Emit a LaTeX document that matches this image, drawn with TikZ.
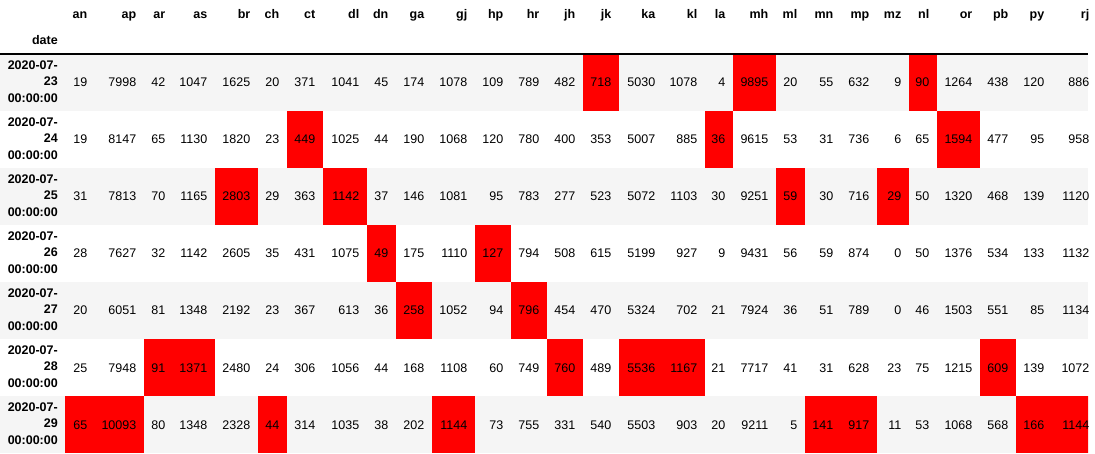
\documentclass[tikz,border=0pt]{standalone}
\usepackage{fontspec}
\setmainfont{Liberation Sans}
\definecolor{rowgray}{HTML}{F5F5F5}
\definecolor{maxred}{HTML}{FF0000}
\newcommand{\cellfont}{\fontsize{12.5}{16.5}\selectfont}
\tikzstyle{header} = [anchor=base east, inner sep=0pt, font=\cellfont\bfseries]
\tikzstyle{value} = [anchor=base east, inner sep=0pt, text=black, font=\cellfont]
\tikzstyle{dateidx} = [anchor=east, inner sep=0pt, align=right, font=\cellfont\bfseries]
\tikzstyle{stripe} = [fill=rowgray, draw=none]
\tikzstyle{maxcell} = [fill=maxred, draw=none]
\tikzstyle{headrule} = [draw=black, line width=1.2pt]
% right edges of the columns (pixels), first entry is the left edge of 'an'
\def\colEdge{{65,95,144,173,215,258,287,323,367,396,432,475,511,547,583,619,663,705,733,776,805,841,877,909,937,980,1016,1052,1097}}

\begin{document}
\begin{tikzpicture}[x=1pt, y=-1pt]
	\useasboundingbox (0,0) rectangle (1095,454);
	\begin{scope}
		\clip (0,0) rectangle (1088,454);

		% striped rows
		\foreach \r in {1,3,5,7}
			\fill[stripe] (0,{54+57*(\r-1)}) rectangle (1088,{54+57*\r});

		% column maxima
		\foreach \r/\c in {1/15,1/19,1/24, 2/7,2/18,2/25, 3/5,3/8,3/20,3/23, 4/9,4/12, 5/10,5/13,
				6/3,6/4,6/14,6/16,6/17,6/26, 7/1,7/2,7/6,7/11,7/21,7/22,7/27,7/28} {
			\pgfmathsetmacro{\xl}{\colEdge[\c-1]}
			\pgfmathsetmacro{\xr}{\colEdge[\c]}
			\fill[maxcell] (\xl,{54+57*(\r-1)}) rectangle (\xr,{54+57*\r});
		}

		% header
		\foreach \name [count=\c] in {an,ap,ar,as,br,ch,ct,dl,dn,ga,gj,hp,hr,jh,jk,ka,kl,la,mh,ml,mn,mp,mz,nl,or,pb,py,rj} {
			\pgfmathsetmacro{\xr}{\colEdge[\c]-7.5}
			\node[header] (h-\name) at (\xr,18.5) {\name};
		}
		\node[header] (h-date) at (58,45) {date};
		\draw[headrule] (0,54) -- (1088,54);

		% rows
		\foreach \r/\day/\vals in {
				1/23/{19,7998,42,1047,1625,20,371,1041,45,174,1078,109,789,482,718,5030,1078,4,9895,20,55,632,9,90,1264,438,120,886},
				2/24/{19,8147,65,1130,1820,23,449,1025,44,190,1068,120,780,400,353,5007,885,36,9615,53,31,736,6,65,1594,477,95,958},
				3/25/{31,7813,70,1165,2803,29,363,1142,37,146,1081,95,783,277,523,5072,1103,30,9251,59,30,716,29,50,1320,468,139,1120},
				4/26/{28,7627,32,1142,2605,35,431,1075,49,175,1110,127,794,508,615,5199,927,9,9431,56,59,874,0,50,1376,534,133,1132},
				5/27/{20,6051,81,1348,2192,23,367,613,36,258,1052,94,796,454,470,5324,702,21,7924,36,51,789,0,46,1503,551,85,1134},
				6/28/{25,7948,91,1371,2480,24,306,1056,44,168,1108,60,749,760,489,5536,1167,21,7717,41,31,628,23,75,1215,609,139,1072},
				7/29/{65,10093,80,1348,2328,44,314,1035,38,202,1144,73,755,331,540,5503,903,20,9211,5,141,917,11,53,1068,568,166,1144}} {
			\pgfmathsetmacro{\yc}{54+57*(\r-0.5)}
			\node[dateidx] (d-\r) at (58,\yc-1) {2020-07-\\\day\\00:00:00};
			\foreach \v [count=\c] in \vals {
				\pgfmathsetmacro{\xr}{\colEdge[\c]-7.5}
				\node[value] (v-\r-\c) at (\xr,\yc+4.5) {\v};
			}
		}
	\end{scope}
\end{tikzpicture}
\end{document}
